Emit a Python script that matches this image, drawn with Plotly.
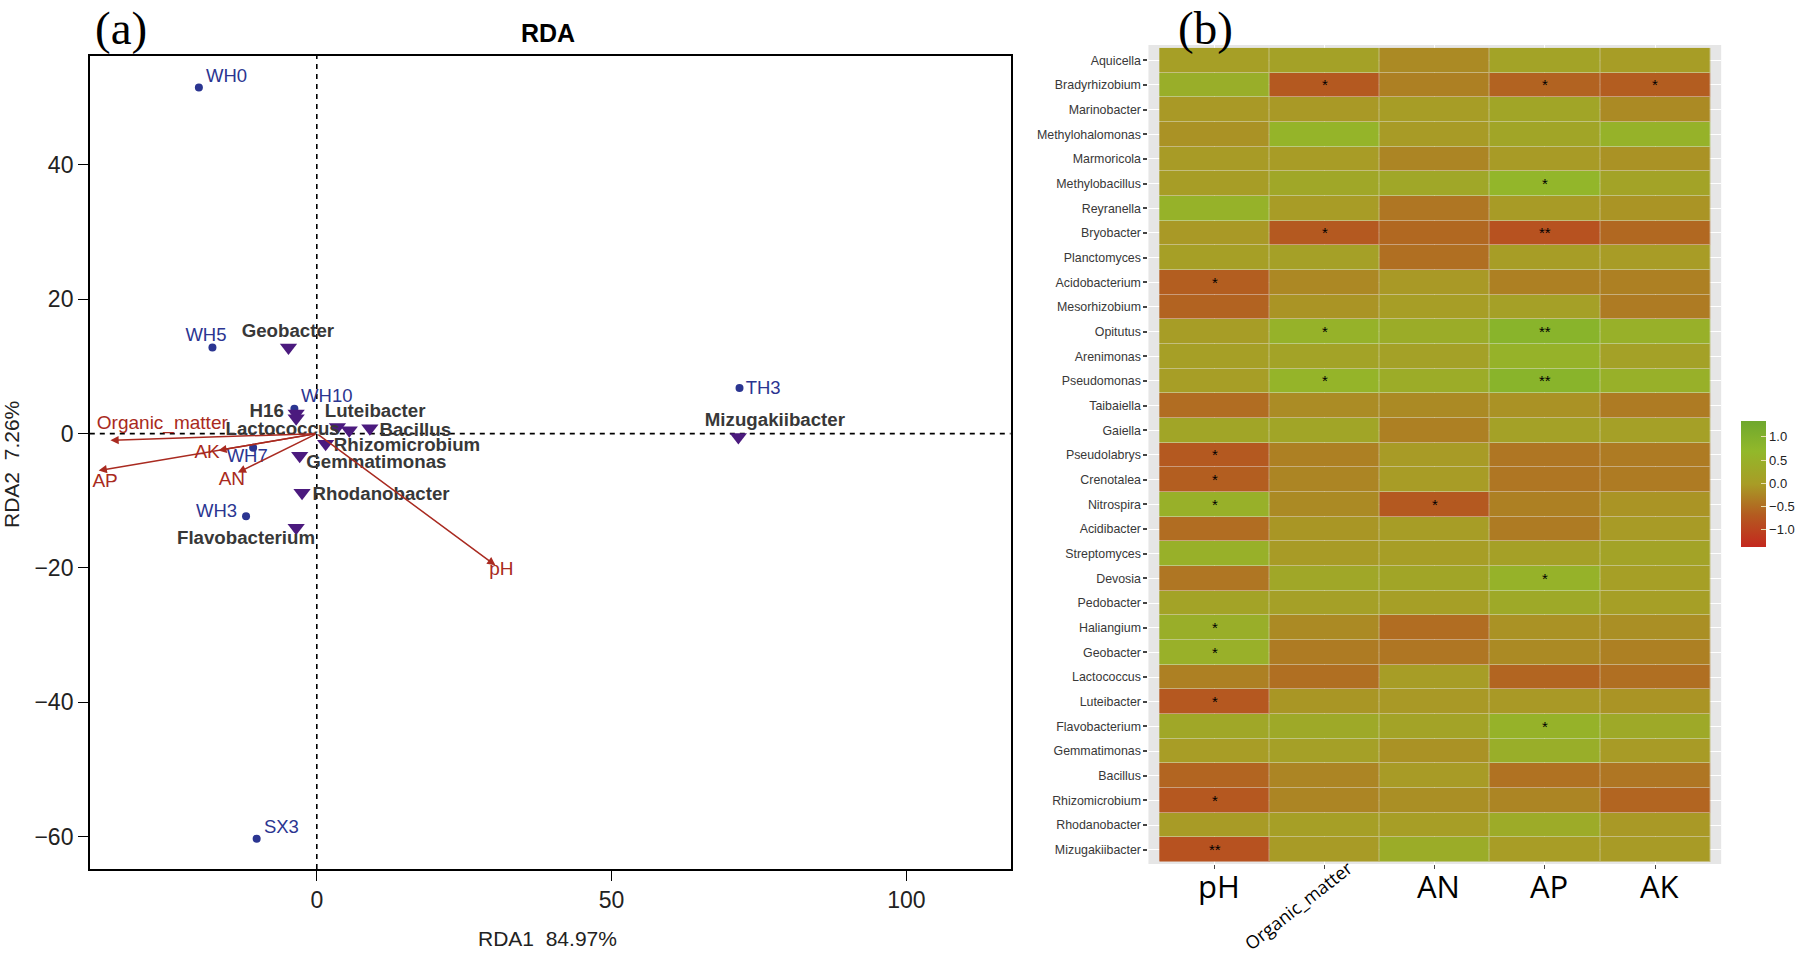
import plotly.graph_objects as go

W, H = 1800, 955

site_names = ["WH0", "WH5", "WH10", "WH7", "WH3", "SX3", "TH3"]
site_x = [-20, -17.7, -3.8, -10.8, -12, -10.2, 71.7]
site_y = [51.5, 12.8, 3.7, -2.1, -12.3, -60.3, 6.8]
site_label_x = [-15.3, -18.8, 1.7, -11.8, -17, -6, 75.7]
site_label_y = [53, 14.5, 5.4, -3.6, -11.7, -58.7, 6.6]

genus_names = ["Geobacter", "H16", "Lactococcus", "Luteibacter", "Bacillus", "Rhizomicrobium",
               "Gemmatimonas", "Rhodanobacter", "Flavobacterium", "Mizugakiibacter"]
genus_x = [-4.8, -3.5, -3.5, 3.5, 9, 1.5, -2.9, -2.5, -3.5, 71.5]
genus_y = [12.8, 3.0, 2.3, 1.0, 0.8, -1.5, -3.3, -8.8, -14, -0.5]
genus_label_x = [-4.9, -8.5, -5.8, 9.9, 16.7, 15.3, 10.1, 10.9, -12, 77.7]
genus_label_y = [15.1, 3.2, 0.5, 3.2, 0.3, -1.9, -4.4, -9.2, -15.8, 1.9]
extra_x = [5.5]
extra_y = [0.5]

env_names = ["pH", "Organic_matter", "AN", "AP", "AK"]
env_x = [30.3, -35, -13.4, -37, -16.7]
env_y = [-19.6, -1, -5.8, -5.5, -2.5]
env_label_x = [31.3, -26.2, -14.4, -35.9, -18.6]
env_label_y = [-20.4, 1.4, -7, -7.3, -2.9]

rows = ["Aquicella", "Bradyrhizobium", "Marinobacter", "Methylohalomonas", "Marmoricola", "Methylobacillus",
        "Reyranella", "Bryobacter", "Planctomyces", "Acidobacterium", "Mesorhizobium", "Opitutus", "Arenimonas",
        "Pseudomonas", "Taibaiella", "Gaiella", "Pseudolabrys", "Crenotalea", "Nitrospira", "Acidibacter",
        "Streptomyces", "Devosia", "Pedobacter", "Haliangium", "Geobacter", "Lactococcus", "Luteibacter",
        "Flavobacterium", "Gemmatimonas", "Bacillus", "Rhizomicrobium", "Rhodanobacter", "Mizugakiibacter"]

pH_vals = [0.05, 0.45, -0.05, -0.12, -0.03, 0.02, 0.55, -0.05, 0.05, -0.65, -0.6, 0.02, 0.05, 0.03, -0.5, 0.2,
           -0.7, -0.65, 0.5, -0.5, 0.5, -0.4, 0.15, 0.45, 0.48, -0.3, -0.72, 0.25, 0.0, -0.58, -0.72, -0.03, -0.8]
om_vals = [0.12, -0.7, -0.05, 0.6, -0.02, 0.25, -0.02, -0.7, 0.08, -0.22, -0.1, 0.55, 0.15, 0.6, -0.18, 0.2,
           -0.3, -0.25, -0.2, -0.08, -0.03, 0.25, 0.08, -0.2, -0.35, -0.48, -0.08, 0.3, 0.08, -0.25, -0.25, 0.05, -0.03]
an_vals = [-0.2, -0.3, 0.02, -0.03, -0.25, 0.25, -0.4, -0.55, -0.48, -0.05, 0.03, 0.4, 0.12, 0.38, -0.2, -0.3,
           -0.03, -0.02, -0.7, 0.02, 0.03, 0.22, 0.05, -0.5, -0.4, 0.02, -0.05, 0.15, -0.12, -0.03, -0.15, 0.03, 0.4]
ap_vals = [0.15, -0.6, 0.2, 0.2, -0.03, 0.65, -0.03, -0.8, 0.02, -0.3, 0.08, 0.85, 0.55, 0.85, -0.12, 0.12,
           -0.4, -0.4, -0.3, -0.35, 0.08, 0.55, 0.3, -0.12, -0.2, -0.58, -0.05, 0.55, 0.45, -0.45, -0.25, 0.35, 0.0]
ak_vals = [0.02, -0.66, -0.2, 0.55, -0.12, 0.15, -0.1, -0.55, -0.02, -0.3, -0.35, 0.5, 0.1, 0.5, -0.35, 0.08,
           -0.35, -0.35, -0.1, -0.03, 0.15, 0.05, 0.05, -0.15, -0.3, -0.48, -0.1, 0.3, -0.03, -0.4, -0.58, -0.05, -0.03]

stars = {
    "Bradyrhizobium": {"Organic_matter": "*", "AP": "*", "AK": "*"},
    "Methylobacillus": {"AP": "*"},
    "Bryobacter": {"Organic_matter": "*", "AP": "**"},
    "Acidobacterium": {"pH": "*"},
    "Opitutus": {"Organic_matter": "*", "AP": "**"},
    "Pseudomonas": {"Organic_matter": "*", "AP": "**"},
    "Pseudolabrys": {"pH": "*"},
    "Crenotalea": {"pH": "*"},
    "Nitrospira": {"pH": "*", "AN": "*"},
    "Devosia": {"AP": "*"},
    "Haliangium": {"pH": "*"},
    "Geobacter": {"pH": "*"},
    "Luteibacter": {"pH": "*"},
    "Flavobacterium": {"AP": "*"},
    "Rhizomicrobium": {"pH": "*"},
    "Mizugakiibacter": {"pH": "**"},
}

cbar_ticks = [-1.0, -0.5, 0.0, 0.5, 1.0]
cbar_labels = ["\u22121.0", "\u22120.5", "0.0", "0.5", "1.0"]

RED = "#a92a20"
XR = [-38.5, 117.7]
YR = [-64.8, 56.2]
SCALE = [[0, "#c4281e"], [0.25, "#b45a20"], [0.5, "#a89c26"], [0.76, "#92b82a"], [1, "#6fa82e"]]
fig = go.Figure()


def px_x(p):
    return p / W


def px_y(p):
    return 1 - p / H


# Panel (a) ------------------------------------------------------------
fig.add_trace(go.Scatter(x=XR, y=[0, 0], mode="lines", xaxis="x", yaxis="y",
                         line=dict(color="black", width=1.6, dash="5px,5px"), hoverinfo="skip"))
fig.add_trace(go.Scatter(x=[0, 0], y=YR, mode="lines", xaxis="x", yaxis="y",
                         line=dict(color="black", width=1.6, dash="5px,5px"), hoverinfo="skip"))
fig.add_trace(go.Scatter(x=site_x, y=site_y, mode="markers", xaxis="x", yaxis="y",
                         marker=dict(color="#2b3591", size=8)))
fig.add_trace(go.Scatter(x=genus_x + extra_x, y=genus_y + extra_y, mode="markers", xaxis="x", yaxis="y",
                         marker=dict(color="#4b1a7e", size=15, symbol="triangle-down")))
fig.add_trace(go.Scatter(x=site_label_x, y=site_label_y, text=site_names, mode="text", xaxis="x", yaxis="y",
                         textfont=dict(family="Liberation Sans", size=18.5, color="#2b3591")))
fig.add_trace(go.Scatter(x=genus_label_x, y=genus_label_y, text=genus_names, mode="text", xaxis="x", yaxis="y",
                         textfont=dict(family="Liberation Sans", size=18.7, color="#383838", weight="bold")))
fig.add_trace(go.Scatter(x=env_label_x, y=env_label_y, text=env_names, mode="text", xaxis="x", yaxis="y",
                         textfont=dict(family="Liberation Sans", size=19, color=RED)))

annotations = []
for ex, ey in zip(env_x, env_y):
    annotations.append(dict(x=ex, y=ey, ax=0, ay=0, xref="x", yref="y", axref="x", ayref="y", text="",
                            showarrow=True, arrowhead=2, arrowsize=1.1, arrowwidth=1.5, arrowcolor=RED))

# Panel (b) ------------------------------------------------------------
z = [list(v) for v in zip(pH_vals, om_vals, an_vals, ap_vals, ak_vals)]
fig.add_trace(go.Heatmap(z=z, x=env_names, y=rows, xaxis="x2", yaxis="y2", zmin=-1.37, zmax=1.34,
                         colorscale=SCALE, showscale=False, opacity=0.55, hoverinfo="skip"))
fig.add_trace(go.Heatmap(
    z=z, x=env_names, y=rows, xaxis="x2", yaxis="y2", zmin=-1.37, zmax=1.34, xgap=1, ygap=1,
    colorscale=SCALE,
    colorbar=dict(thickness=25, lenmode="pixels", len=126, x=px_x(1745), xanchor="left", xpad=0, ypad=0,
                  y=px_y(484), yanchor="middle", outlinewidth=0, ticks="inside", ticklen=5, tickcolor="#e8e0b0",
                  tickvals=cbar_ticks, ticktext=cbar_labels,
                  tickfont=dict(family="Liberation Sans", size=13, color="#222222")),
))
for row, cells in stars.items():
    for col, s in cells.items():
        annotations.append(dict(x=col, y=row, xref="x2", yref="y2", text=s, showarrow=False,
                                font=dict(family="Liberation Sans", size=15, color="black")))

for name in env_names:
    if name == "Organic_matter":
        annotations.append(dict(x=name, y=0, xref="x2", yref="paper", yanchor="middle", text=name, showarrow=False,
                                textangle=-38, yshift=50, xshift=-26,
                                font=dict(family="Open Sans", size=18, color="black")))
    else:
        annotations.append(dict(x=name, y=0, xref="x2", yref="paper", yanchor="middle", text=name, showarrow=False,
                                yshift=69, xshift=4, font=dict(family="Open Sans", size=31, color="black")))

annotations += [
    dict(text="(a)", x=px_x(93), y=px_y(28), xref="paper", yref="paper", xanchor="left", yanchor="middle",
         showarrow=False, font=dict(family="Liberation Serif", size=47, color="black")),
    dict(text="(b)", x=px_x(1179), y=px_y(28), xref="paper", yref="paper", xanchor="left", yanchor="middle",
         showarrow=False, font=dict(family="Liberation Serif", size=47, color="black")),
    dict(text="<b>RDA</b>", x=px_x(549), y=px_y(33), xref="paper", yref="paper", xanchor="center", yanchor="middle",
         showarrow=False, font=dict(family="Liberation Sans", size=25, color="black")),
    dict(text="RDA1  84.97%", x=px_x(549), y=px_y(938), xref="paper", yref="paper", xanchor="center", yanchor="middle",
         showarrow=False, font=dict(family="Liberation Sans", size=21, color="#222222")),
    dict(text="RDA2  7.26%", x=px_x(12), y=px_y(464), xref="paper", yref="paper", xanchor="center", yanchor="middle",
         showarrow=False, textangle=-90, font=dict(family="Liberation Sans", size=21, color="#222222")),
]

axis_a = dict(showgrid=False, zeroline=False, showline=True, mirror=True, linecolor="black", linewidth=1.5,
              ticks="outside", ticklen=10, tickwidth=1.2, tickcolor="black",
              tickfont=dict(family="Liberation Sans", size=23, color="#222222"))

fig.update_layout(
    width=W, height=H, margin=dict(l=0, r=0, t=0, b=0), paper_bgcolor="white", plot_bgcolor="white",
    showlegend=False, annotations=annotations,
    xaxis=dict(axis_a, domain=[px_x(90), px_x(1013)], range=XR, tickvals=[0, 50, 100], anchor="y"),
    yaxis=dict(axis_a, domain=[px_y(869), px_y(56)], range=YR, tickvals=[-60, -40, -20, 0, 20, 40],
               tickformat="d", anchor="x"),
    xaxis2=dict(domain=[px_x(1151), px_x(1725)], range=[-0.6, 4.6], anchor="y2", type="category",
                categoryorder="array", categoryarray=env_names, showticklabels=False,
                showgrid=True, gridcolor="white", gridwidth=1.2, zeroline=False,
                ticks="outside", ticklen=4, tickcolor="#444444", showline=False),
    yaxis2=dict(domain=[px_y(864), px_y(45)], range=[32.58, -0.62], anchor="x2", type="category",
                categoryorder="array", categoryarray=rows,
                showgrid=True, gridcolor="white", gridwidth=1.2, zeroline=False,
                ticks="outside", ticklen=4, tickwidth=1.5, tickcolor="#444444", showline=False,
                tickmode="array", tickvals=rows, ticktext=rows,
                tickfont=dict(family="Liberation Sans", size=12.4, color="#383838")),
)
fig.add_shape(type="rect", xref="paper", yref="paper", layer="below", line_width=0, fillcolor="#e6e6e6",
              x0=px_x(1151), x1=px_x(1725), y0=px_y(864), y1=px_y(45))

fig.write_html("out.html", config={"displayModeBar": False}, post_script="document.body.style.margin='0'")
